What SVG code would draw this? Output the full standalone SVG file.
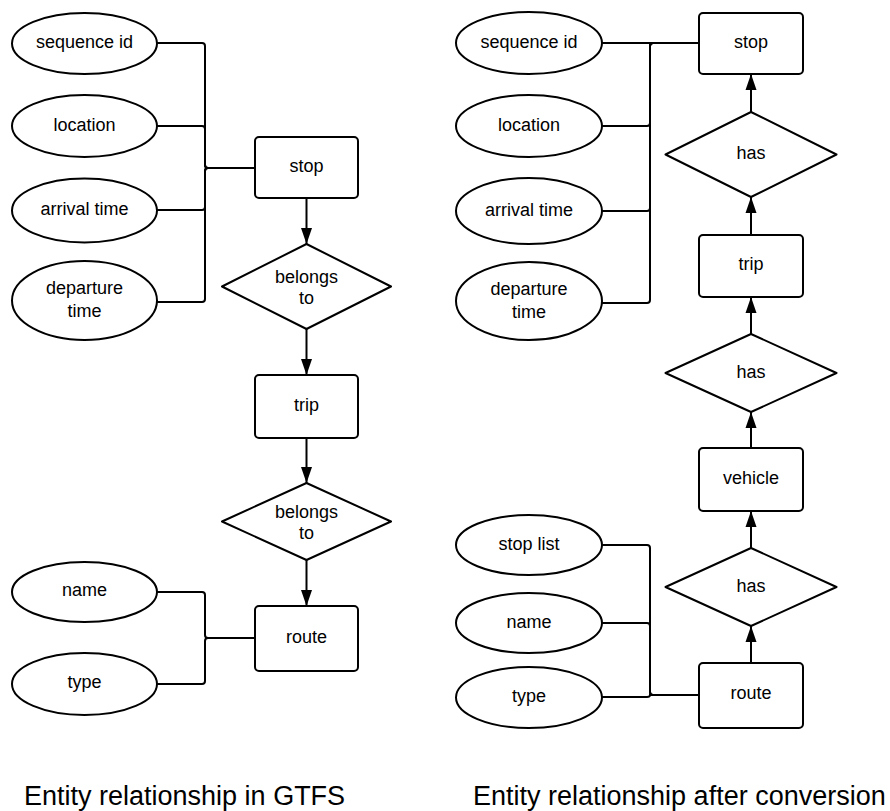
<svg xmlns="http://www.w3.org/2000/svg" width="890" height="811" viewBox="0 0 890 811">
  <defs>
    <marker id="arrow" markerUnits="userSpaceOnUse" markerWidth="16" markerHeight="12" viewBox="0 0 16 12" refX="16" refY="6" orient="auto">
      <path d="M0,0.5 L16,6 L0,11.5 Z" fill="#000"/>
    </marker>
    <style>
      .shape { fill: #fff; stroke: #000; stroke-width: 2; }
      .link { fill: none; stroke: #000; stroke-width: 2; }
      .flow { fill: none; stroke: #000; stroke-width: 2; marker-end: url(#arrow); }
      text { font-family: "Liberation Sans", Arial, sans-serif; fill: #000; }
      .lbl { font-size: 18px; text-anchor: middle; }
      .title { font-size: 27px; }
    </style>
  </defs>
  <rect width="890" height="811" fill="#fff"/>

  <!-- attribute and relationship connectors -->
  <g id="connectors">
    <!-- GTFS: stop attributes -->
    <path class="link" d="M157 43 H202 Q205 43 205 46 V165 Q205 168 208 168 H255"/>
    <path class="link" d="M157 126 H202 Q205 126 205 129 V165 Q205 168 208 168"/>
    <path class="link" d="M157 210 H202 Q205 210 205 207 V171 Q205 168 208 168"/>
    <path class="link" d="M157 302 H202 Q205 302 205 299 V171 Q205 168 208 168"/>
    <!-- GTFS: route attributes -->
    <path class="link" d="M157 592 H202 Q205 592 205 595 V635 Q205 638 208 638 H255"/>
    <path class="link" d="M157 684 H202 Q205 684 205 681 V641 Q205 638 208 638"/>
    <!-- GTFS: relationship flow -->
    <path class="flow" d="M306.5 198 V244"/>
    <path class="flow" d="M306.5 329 V375"/>
    <path class="flow" d="M306.5 438 V483"/>
    <path class="flow" d="M306.5 560 V606"/>

    <!-- converted: stop attributes -->
    <path class="link" d="M602 43 H699"/>
    <path class="link" d="M602 126 H647 Q650 126 650 123 V46 Q650 43 653 43 H699"/>
    <path class="link" d="M602 211 H647 Q650 211 650 208 V46 Q650 43 653 43"/>
    <path class="link" d="M602 303 H647 Q650 303 650 300 V46 Q650 43 653 43"/>
    <!-- converted: route attributes -->
    <path class="link" d="M602 545 H647 Q650 545 650 548 V692 Q650 695 653 695 H699"/>
    <path class="link" d="M602 623 H647 Q650 623 650 626 V692 Q650 695 653 695"/>
    <path class="link" d="M602 697 H647 Q650 697 650 695 H699"/>
    <!-- converted: relationship flow -->
    <path class="flow" d="M751 112 V74"/>
    <path class="flow" d="M751 235 V197"/>
    <path class="flow" d="M751 334 V297"/>
    <path class="flow" d="M751 448 V412"/>
    <path class="flow" d="M751 548 V511"/>
    <path class="flow" d="M751 663 V626"/>
  </g>

  <!-- GTFS model -->
  <g id="gtfs-sequence-id">
    <ellipse class="shape" cx="84.5" cy="43.5" rx="72.5" ry="30.5"/>
    <text class="lbl" x="84.5" y="48">sequence id</text>
  </g>
  <g id="gtfs-location">
    <ellipse class="shape" cx="84.5" cy="126" rx="72.5" ry="31"/>
    <text class="lbl" x="84.5" y="130.5">location</text>
  </g>
  <g id="gtfs-arrival-time">
    <ellipse class="shape" cx="84.5" cy="210.5" rx="72.5" ry="32"/>
    <text class="lbl" x="84.5" y="215">arrival time</text>
  </g>
  <g id="gtfs-departure-time">
    <ellipse class="shape" cx="84.5" cy="300.5" rx="72.5" ry="39.5"/>
    <text class="lbl" x="84.5" y="294">departure</text>
    <text class="lbl" x="84.5" y="316.5">time</text>
  </g>
  <g id="gtfs-stop">
    <rect class="shape" x="255" y="137" width="103" height="61" rx="4"/>
    <text class="lbl" x="306.5" y="172">stop</text>
  </g>
  <g id="gtfs-belongs-to-1">
    <polygon class="shape" points="222,286.5 306.5,244 391,286.5 306.5,329" stroke-linejoin="round"/>
    <text class="lbl" x="306.5" y="282.5">belongs</text>
    <text class="lbl" x="306.5" y="304">to</text>
  </g>
  <g id="gtfs-trip">
    <rect class="shape" x="255" y="375" width="103" height="63" rx="4"/>
    <text class="lbl" x="306.5" y="411">trip</text>
  </g>
  <g id="gtfs-belongs-to-2">
    <polygon class="shape" points="222,521.5 306.5,483 391,521.5 306.5,560" stroke-linejoin="round"/>
    <text class="lbl" x="306.5" y="517.5">belongs</text>
    <text class="lbl" x="306.5" y="539">to</text>
  </g>
  <g id="gtfs-route">
    <rect class="shape" x="255" y="606" width="103" height="65" rx="4"/>
    <text class="lbl" x="306.5" y="643">route</text>
  </g>
  <g id="gtfs-name">
    <ellipse class="shape" cx="84.5" cy="592" rx="72.5" ry="30"/>
    <text class="lbl" x="84.5" y="596">name</text>
  </g>
  <g id="gtfs-type">
    <ellipse class="shape" cx="84.5" cy="684" rx="72.5" ry="31"/>
    <text class="lbl" x="84.5" y="688">type</text>
  </g>

  <!-- converted model -->
  <g id="conv-sequence-id">
    <ellipse class="shape" cx="529" cy="43" rx="73" ry="31"/>
    <text class="lbl" x="529" y="47.5">sequence id</text>
  </g>
  <g id="conv-location">
    <ellipse class="shape" cx="529" cy="126" rx="73" ry="31"/>
    <text class="lbl" x="529" y="130.5">location</text>
  </g>
  <g id="conv-arrival-time">
    <ellipse class="shape" cx="529" cy="211" rx="73" ry="33"/>
    <text class="lbl" x="529" y="215.5">arrival time</text>
  </g>
  <g id="conv-departure-time">
    <ellipse class="shape" cx="529" cy="301" rx="73" ry="39"/>
    <text class="lbl" x="529" y="295">departure</text>
    <text class="lbl" x="529" y="317.5">time</text>
  </g>
  <g id="conv-stop">
    <rect class="shape" x="699" y="13" width="104" height="61" rx="4"/>
    <text class="lbl" x="751" y="47.5">stop</text>
  </g>
  <g id="conv-has-1">
    <polygon class="shape" points="665.5,154.5 751,112 836.5,154.5 751,197" stroke-linejoin="round"/>
    <text class="lbl" x="751" y="159">has</text>
  </g>
  <g id="conv-trip">
    <rect class="shape" x="699" y="235" width="104" height="62" rx="4"/>
    <text class="lbl" x="751" y="270">trip</text>
  </g>
  <g id="conv-has-2">
    <polygon class="shape" points="665.5,373 751,334 836.5,373 751,412" stroke-linejoin="round"/>
    <text class="lbl" x="751" y="377.5">has</text>
  </g>
  <g id="conv-vehicle">
    <rect class="shape" x="699" y="448" width="104" height="63" rx="4"/>
    <text class="lbl" x="751" y="483.5">vehicle</text>
  </g>
  <g id="conv-has-3">
    <polygon class="shape" points="665.5,587 751,548 836.5,587 751,626" stroke-linejoin="round"/>
    <text class="lbl" x="751" y="591.5">has</text>
  </g>
  <g id="conv-route">
    <rect class="shape" x="699" y="663" width="104" height="65" rx="4"/>
    <text class="lbl" x="751" y="698.5">route</text>
  </g>
  <g id="conv-stop-list">
    <ellipse class="shape" cx="529" cy="545" rx="73" ry="30"/>
    <text class="lbl" x="529" y="549.5">stop list</text>
  </g>
  <g id="conv-name">
    <ellipse class="shape" cx="529" cy="623" rx="73" ry="30"/>
    <text class="lbl" x="529" y="627.5">name</text>
  </g>
  <g id="conv-type">
    <ellipse class="shape" cx="529" cy="697.5" rx="73" ry="30.5"/>
    <text class="lbl" x="529" y="702">type</text>
  </g>

  <!-- captions -->
  <text class="title" x="24" y="805">Entity relationship in GTFS</text>
  <text class="title" x="473" y="805">Entity relationship after conversion</text>
</svg>
